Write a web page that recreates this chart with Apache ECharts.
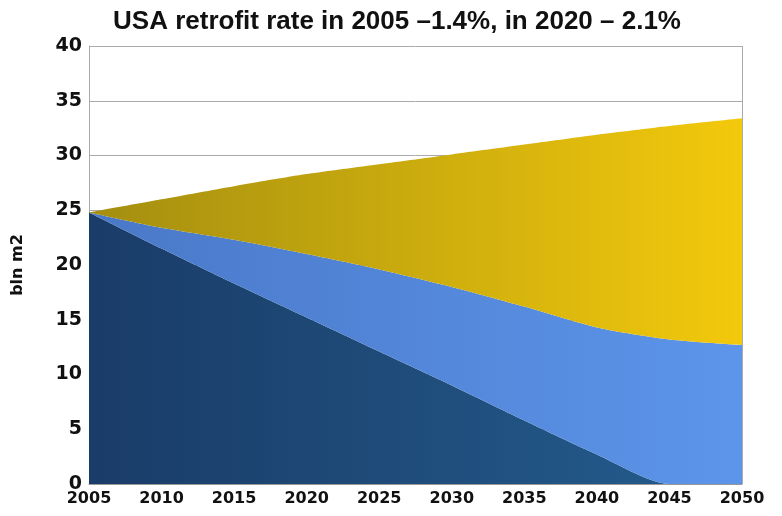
<html>
<head>
<meta charset="utf-8">
<script src="https://cdn.jsdelivr.net/npm/echarts@6/dist/echarts.min.js"></script>
<style>
  body { margin: 0; background: #fff; }
  #container { width: 782px; height: 516px; }
</style>
</head>
<body>
<div id="container"></div>
<script>
// values, bln m2 (stacked)
var years = ['2005', '2010', '2015', '2020', '2025', '2030', '2035', '2040', '2045', '2050'];
var existing = [24.8, 21.5, 18.3, 15.2, 12.1, 9.0, 5.8, 2.7, 0, 0];
var retrofitted = [0, 1.9, 4.0, 5.8, 7.5, 9.0, 10.4, 11.6, 13.2, 12.7];
var newBuild = [0, 2.6, 4.9, 7.3, 9.6, 12.1, 14.8, 17.6, 19.5, 20.7];

function hGrad(a, b) {
    return new echarts.graphic.LinearGradient(0, 0, 1, 0, [
        { offset: 0, color: a },
        { offset: 1, color: b }
    ]);
}

var myChart = echarts.init(document.getElementById('container'));

function areaSeries(name, data, c1, c2) {
    return {
        name: name,
        type: 'line',
        stack: 'total',
        data: data,
        smooth: 0.25,
        symbol: 'none',
        lineStyle: { width: 0 },
        areaStyle: { color: hGrad(c1, c2), opacity: 1 }
    };
}

var option = {
    animation: false,
    title: {
        text: 'USA retrofit rate in 2005 \u20131.4%, in 2020 \u2013 2.1%',
        left: 392,
        textAlign: 'center',
        top: 4,
        textStyle: { fontFamily: 'Liberation Sans', fontWeight: 'bold', fontSize: 26, color: '#111' }
    },
    grid: { left: 89, right: 40, top: 46, bottom: 32 },
    xAxis: {
        type: 'category',
        data: years,
        boundaryGap: false,
        axisLine: { lineStyle: { color: '#999' } },
        axisTick: { show: false },
        axisLabel: {
            color: '#111', fontFamily: 'DejaVu Sans', fontWeight: 'bold', fontSize: 16, margin: 7
        },
        splitLine: { show: false }
    },
    yAxis: {
        type: 'value',
        min: 0,
        max: 40,
        interval: 5,
        name: 'bln m2',
        nameLocation: 'middle',
        nameGap: 63,
        nameTextStyle: { color: '#111', fontFamily: 'DejaVu Sans', fontWeight: 'bold', fontSize: 16 },
        axisLine: { show: true, lineStyle: { color: '#aaa' } },
        axisTick: { show: false },
        axisLabel: {
            color: '#111', fontFamily: 'DejaVu Sans', fontWeight: 'bold', fontSize: 19, margin: 7
        },
        splitLine: { show: true, lineStyle: { color: '#aaa', width: 1 } }
    },
    series: [
        areaSeries('existing', existing, '#1a3c68', '#245d8e'),
        areaSeries('retrofitted', retrofitted, '#4a78c8', '#5c95ea'),
        areaSeries('new', newBuild, '#a38e10', '#f3c90c')
    ],
    graphic: [{
        type: 'line',
        shape: { x1: 742.5, y1: 46, x2: 742.5, y2: 484 },
        style: { stroke: '#aaa', lineWidth: 1 }
    }]
};

myChart.setOption(option);
</script>
</body>
</html>
